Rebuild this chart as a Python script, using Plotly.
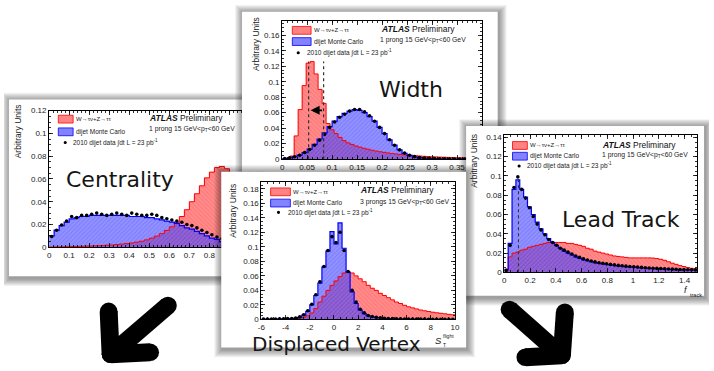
import numpy as np
import plotly.graph_objects as go

W, H = 714, 371

# ---------------- data ----------------
# Centrality: 40 bins on [0, 1]
cent_edges = np.linspace(0.0, 1.0, 41)
cent_tau = [0.0002, 0.0003, 0.0004, 0.0005, 0.0006, 0.0007, 0.0008, 0.001, 0.0011, 0.0013,
            0.0015, 0.0018, 0.002, 0.0024, 0.0028, 0.0033, 0.0038, 0.0045, 0.0053, 0.0065,
            0.008, 0.0098, 0.012, 0.0148, 0.018, 0.022, 0.027, 0.033, 0.04, 0.047,
            0.054, 0.061, 0.066, 0.07, 0.071, 0.069, 0.064, 0.055, 0.042, 0.025]
cent_mc = [0.010, 0.015, 0.019, 0.022, 0.025, 0.026, 0.027, 0.027, 0.028, 0.028,
           0.028, 0.028, 0.028, 0.028, 0.028, 0.028, 0.027, 0.027, 0.027, 0.026,
           0.026, 0.025, 0.024, 0.023, 0.022, 0.021, 0.019, 0.017, 0.016, 0.014,
           0.012, 0.010, 0.008, 0.007, 0.005, 0.004, 0.003, 0.002, 0.0012, 0.0005]
cent_data = [0.0095, 0.015, 0.0195, 0.023, 0.027, 0.026, 0.028, 0.028, 0.029, 0.030,
             0.029, 0.028, 0.029, 0.030, 0.029, 0.028, 0.030, 0.029, 0.028, 0.028,
             0.029, 0.028, 0.026, 0.025, 0.024, 0.023, 0.022, 0.020, 0.019, 0.017,
             0.015, 0.013, 0.011, 0.009, 0.0075, 0.0055, 0.004, 0.003, 0.002, 0.001]
cent_xtickvals = [0, 0.1, 0.2, 0.3, 0.4, 0.5, 0.6, 0.7, 0.8, 0.9]
cent_xticktext = ["0", "0.1", "0.2", "0.3", "0.4", "0.5", "0.6", "0.7", "0.8", "0.9"]
cent_ytickvals = [0, 0.02, 0.04, 0.06, 0.08, 0.10, 0.12]
cent_yticktext = ["0", "0.02", "0.04", "0.06", "0.08", "0.1", "0.12"]

# Width: signal 50 bins on [0, 0.4], background / data 40 bins on [0, 0.4]
width_tau_edges = np.linspace(0.0, 0.4, 51)
width_edges = np.linspace(0.0, 0.4, 41)
width_tau = [0.0, 0.001, 0.004, 0.03, 0.064, 0.095, 0.124, 0.126, 0.11, 0.09,
             0.072, 0.046, 0.038, 0.033, 0.028, 0.024, 0.021, 0.019, 0.017, 0.0155,
             0.014, 0.0128, 0.0115, 0.0105, 0.0096, 0.0088, 0.008, 0.0073, 0.0067, 0.0061,
             0.0056, 0.0052, 0.0048, 0.0044, 0.004, 0.0037, 0.0034, 0.0031, 0.0029, 0.0027,
             0.0025, 0.0023, 0.0021, 0.0019, 0.0017, 0.0016, 0.0015, 0.0014, 0.0013, 0.0012]
width_mc = [0.0008, 0.0018, 0.0032, 0.0052, 0.0085, 0.013, 0.019, 0.026, 0.034, 0.042,
            0.049, 0.055, 0.059, 0.062, 0.064, 0.063, 0.060, 0.055, 0.049, 0.041,
            0.033, 0.025, 0.018, 0.012, 0.0075, 0.0048, 0.003, 0.002, 0.0013, 0.0009,
            0.0006, 0.0004, 0.0003, 0.0002, 0.0002, 0.0001, 0.0001, 0.0001, 0.0, 0.0]
width_data = [0.0007, 0.0017, 0.003, 0.005, 0.0085, 0.0125, 0.018, 0.0245, 0.032, 0.041,
              0.048, 0.054, 0.058, 0.062, 0.064, 0.064, 0.061, 0.056, 0.049, 0.041,
              0.033, 0.025, 0.018, 0.012, 0.0078, 0.005, 0.0032, 0.0021, 0.0014, 0.001,
              0.0007, 0.0005, 0.0003, 0.0002, 0.0002, 0.0001, 0.0001, 0.0001, 0.0, 0.0]
width_cut_lo, width_cut_hi, width_cut_top, width_arrow_y = 0.053, 0.083, 0.126, 0.063
width_xtickvals = [0, 0.05, 0.1, 0.15, 0.2, 0.25, 0.3, 0.35]
width_xticktext = ["0", "0.05", "0.1", "0.15", "0.2", "0.25", "0.3", "0.35"]
width_ytickvals = [0, 0.02, 0.04, 0.06, 0.08, 0.10, 0.12, 0.14, 0.16]
width_yticktext = ["0", "0.02", "0.04", "0.06", "0.08", "0.1", "0.12", "0.14", "0.16"]

# Displaced vertex: 48 bins on [-6, 10]
dv_edges = np.linspace(-6.0, 10.0, 49)
dv_tau = [0.0001, 0.0001, 0.0001, 0.0002, 0.0002, 0.0003, 0.0005, 0.0008, 0.0012, 0.002,
          0.003, 0.005, 0.009, 0.015, 0.024, 0.032, 0.04, 0.047, 0.053, 0.059,
          0.064, 0.066, 0.064, 0.06, 0.056, 0.052, 0.047, 0.043, 0.04, 0.036,
          0.033, 0.03, 0.027, 0.024, 0.022, 0.0195, 0.0175, 0.016, 0.0145, 0.013,
          0.012, 0.011, 0.010, 0.0092, 0.0085, 0.0078, 0.0071, 0.0065]
dv_mc = [0.0005, 0.0005, 0.0005, 0.0006, 0.0007, 0.0008, 0.001, 0.0012, 0.0018, 0.003,
         0.006, 0.011, 0.02, 0.033, 0.05, 0.072, 0.094, 0.121, 0.104, 0.133,
         0.098, 0.065, 0.038, 0.022, 0.013, 0.008, 0.005, 0.0035, 0.0025, 0.002,
         0.0015, 0.0012, 0.001, 0.0008, 0.0007, 0.0006, 0.0005, 0.0005, 0.0004, 0.0004,
         0.0003, 0.0003, 0.0003, 0.0002, 0.0002, 0.0002, 0.0002, 0.0002]
dv_data = [0.0006, 0.0005, 0.0006, 0.0007, 0.0008, 0.0009, 0.0011, 0.0014, 0.002, 0.0035,
           0.0065, 0.012, 0.021, 0.034, 0.052, 0.073, 0.095, 0.114, 0.106, 0.12,
           0.095, 0.066, 0.04, 0.024, 0.014, 0.009, 0.0055, 0.004, 0.003, 0.0022,
           0.0017, 0.0013, 0.0011, 0.0009, 0.0008, 0.0007, 0.0006, 0.0005, 0.0005, 0.0004,
           0.0004, 0.0003, 0.0003, 0.0003, 0.0002, 0.0002, 0.0002, 0.0002]
dv_xtickvals = [-6, -4, -2, 0, 2, 4, 6, 8, 10]
dv_xticktext = ["-6", "-4", "-2", "0", "2", "4", "6", "8", "10"]
dv_ytickvals = [0, 0.02, 0.04, 0.06, 0.08, 0.10, 0.12, 0.14, 0.16, 0.18]
dv_yticktext = ["0", "0.02", "0.04", "0.06", "0.08", "0.1", "0.12", "0.14", "0.16", "0.18"]

# Lead track: 50 bins on [0, 1.5]
lt_edges = np.linspace(0.0, 1.5, 51)
lt_tau = [0.002, 0.016, 0.02, 0.021, 0.023, 0.024, 0.026, 0.027, 0.028, 0.029,
          0.030, 0.031, 0.031, 0.031, 0.031, 0.031, 0.030, 0.030, 0.029, 0.028,
          0.027, 0.025, 0.024, 0.022, 0.021, 0.020, 0.019, 0.018, 0.017, 0.0165,
          0.016, 0.0155, 0.015, 0.015, 0.015, 0.015, 0.015, 0.015, 0.0148, 0.0143,
          0.0135, 0.0125, 0.011, 0.0095, 0.0083, 0.007, 0.006, 0.005, 0.0042, 0.0035]
lt_mc = [0.003, 0.03, 0.086, 0.096, 0.086, 0.078, 0.068, 0.06, 0.052, 0.045,
         0.04, 0.035, 0.031, 0.028, 0.025, 0.022, 0.02, 0.018, 0.016, 0.0145,
         0.013, 0.012, 0.011, 0.010, 0.0093, 0.0087, 0.0081, 0.0076, 0.0071, 0.0067,
         0.0063, 0.0059, 0.0056, 0.0053, 0.005, 0.0047, 0.0045, 0.0042, 0.004, 0.0038,
         0.0036, 0.0034, 0.0032, 0.003, 0.0029, 0.0027, 0.0026, 0.0025, 0.0024, 0.0023]
lt_data = [0.002, 0.028, 0.088, 0.099, 0.086, 0.077, 0.067, 0.058, 0.05, 0.044,
           0.039, 0.034, 0.031, 0.028, 0.025, 0.023, 0.021, 0.019, 0.017, 0.0155,
           0.014, 0.0128, 0.0118, 0.0108, 0.01, 0.0094, 0.0088, 0.0082, 0.0077, 0.0072,
           0.0068, 0.0064, 0.006, 0.0057, 0.0054, 0.0051, 0.0048, 0.0045, 0.0043, 0.0041,
           0.0039, 0.0037, 0.0035, 0.0033, 0.0031, 0.003, 0.0028, 0.0027, 0.0026, 0.0025]
lt_cut, lt_cut_top = 0.11, 0.099
lt_xtickvals = [0, 0.2, 0.4, 0.6, 0.8, 1.0, 1.2, 1.4]
lt_xticktext = ["0", "0.2", "0.4", "0.6", "0.8", "1", "1.2", "1.4"]
lt_ytickvals = [0, 0.02, 0.04, 0.06, 0.08, 0.10, 0.12, 0.14]
lt_yticktext = ["0", "0.02", "0.04", "0.06", "0.08", "0.1", "0.12", "0.14"]

legend_tau = "W→τν+Z→ττ"
legend_mc = "dijet Monte Carlo"
legend_data = "2010 dijet data ∫dt L = 23 pb<sup>-1</sup>"
atlas_label = "<b><i>ATLAS</i></b> Preliminary"
sel_1prong = "1 prong 15 GeV&lt;p<sub>T</sub>&lt;60 GeV"
sel_3prong = "3 prongs 15 GeV&lt;p<sub>T</sub>&lt;60 GeV"

# ---------------- figure scaffolding ----------------
fig = go.Figure()
layout = {}
shapes = []
annotations = []
SANS = "Liberation Sans"
BIG = "DejaVu Sans"


def aid(letter, n):
    return letter if n == 1 else f"{letter}{n}"


def akey(letter, n):
    return f"{letter}axis" if n == 1 else f"{letter}axis{n}"


def px(x):
    return x / W


def py(y):
    return 1 - y / H


def ann(x, y, text, size, family=SANS, xanchor="left", yanchor="middle",
        color="#222", angle=0):
    annotations.append(dict(x=px(x), y=py(y), xref="paper", yref="paper", text=text,
                            showarrow=False, xanchor=xanchor, yanchor=yanchor,
                            textangle=angle, borderpad=0,
                            font=dict(family=family, size=size, color=color)))


def add_frame(n, box, pad=11):
    bx0, by0, bx1, by1 = box
    fx0, fy0 = max(bx0 - pad, 0), max(by0 - pad, 0)
    fx1, fy1 = min(bx1 + pad, W), min(by1 + pad, H)
    layout[akey("x", n)] = dict(domain=[px(fx0), px(fx1)], range=[fx0, fx1],
                                visible=False, anchor=aid("y", n), fixedrange=True)
    layout[akey("y", n)] = dict(domain=[py(fy1), py(fy0)], range=[fy1, fy0],
                                visible=False, anchor=aid("x", n), fixedrange=True)
    fig.add_trace(go.Scatter(x=[], y=[], xaxis=aid("x", n), yaxis=aid("y", n),
                             showlegend=False, hoverinfo="skip"))
    xr, yr = aid("x", n), aid("y", n)
    for k in range(1, 9):
        shapes.append(dict(type="rect", xref=xr, yref=yr, layer="below",
                           x0=bx0 - k + 1, y0=by0 - k + 1, x1=bx1 + k + 1, y1=by1 + k + 2,
                           fillcolor="rgba(0,0,0,0.055)", line=dict(width=0)))
    shapes.append(dict(type="rect", xref=xr, yref=yr, layer="below",
                       x0=bx0, y0=by0, x1=bx1, y1=by1,
                       fillcolor="white", line=dict(width=0)))
    return xr, yr


def add_legend(xr, yr, red_box, blue_box, dot, texts_x, ys, atlas_xy, sel_xy, sel_text):
    shapes.append(dict(type="rect", xref=xr, yref=yr, layer="below",
                       x0=red_box[0], y0=red_box[1], x1=red_box[2], y1=red_box[3],
                       fillcolor="rgba(255,100,100,0.8)", line=dict(color="red", width=0.8)))
    shapes.append(dict(type="rect", xref=xr, yref=yr, layer="below",
                       x0=blue_box[0], y0=blue_box[1], x1=blue_box[2], y1=blue_box[3],
                       fillcolor="rgba(100,100,255,0.8)", line=dict(color="blue", width=0.8)))
    shapes.append(dict(type="circle", xref=xr, yref=yr, layer="below",
                       x0=dot[0] - 1.6, y0=dot[1] - 1.6, x1=dot[0] + 1.6, y1=dot[1] + 1.6,
                       fillcolor="black", line=dict(width=0)))
    ann(texts_x[0], ys[0], legend_tau, 6)
    ann(texts_x[1], ys[1], legend_mc, 6.5)
    ann(texts_x[2], ys[2], legend_data, 6.5)
    ann(atlas_xy[0], atlas_xy[1], atlas_label, 8.5, color="#111")
    ann(sel_xy[0], sel_xy[1], sel_text, 6.8)


def add_plot(n, xpx, ypx, xrange, yrange, tau_edges, tau, mc_edges, mc, data,
             xt, xtt, yt, ytt, xminor, yminor):
    xr, yr = aid("x", n), aid("y", n)
    tick_font = dict(family=SANS, size=8, color="#222")
    common = dict(showline=True, linecolor="black", linewidth=1, mirror="allticks",
                  ticks="inside", ticklen=4, tickwidth=0.8, tickcolor="black",
                  showgrid=False, zeroline=False, fixedrange=True, tickfont=tick_font,
                  tickmode="array")
    layout[akey("x", n)] = dict(domain=[px(xpx[0]), px(xpx[1])], range=xrange,
                                anchor=yr, tickvals=xt, ticktext=xtt,
                                minor=dict(ticks="inside", ticklen=2, tickcolor="black",
                                           dtick=xminor, tick0=xrange[0]), **common)
    layout[akey("y", n)] = dict(domain=[py(ypx[1]), py(ypx[0])], range=yrange,
                                anchor=xr, tickvals=yt, ticktext=ytt,
                                minor=dict(ticks="inside", ticklen=2, tickcolor="black",
                                           dtick=yminor, tick0=0), **common)
    tau_edges = np.asarray(tau_edges)
    mc_edges = np.asarray(mc_edges)
    tau_c = 0.5 * (tau_edges[1:] + tau_edges[:-1])
    mc_c = 0.5 * (mc_edges[1:] + mc_edges[:-1])
    fig.add_trace(go.Bar(x=tau_c, y=tau, width=np.diff(tau_edges), xaxis=xr, yaxis=yr,
                         opacity=0.65, hoverinfo="skip", showlegend=False,
                         marker=dict(color="#ff5050", line=dict(width=0),
                                     pattern=dict(shape="\\", fgcolor="#ff0000", size=3,
                                                  solidity=0.3, fillmode="overlay"))))
    fig.add_trace(go.Bar(x=mc_c, y=mc, width=np.diff(mc_edges), xaxis=xr, yaxis=yr,
                         opacity=0.62, hoverinfo="skip", showlegend=False,
                         marker=dict(color="#5050ff", line=dict(width=0),
                                     pattern=dict(shape="/", fgcolor="#0000ff", size=3,
                                                  solidity=0.3, fillmode="overlay"))))
    fig.add_trace(go.Scatter(x=tau_edges, y=list(tau) + [tau[-1]], mode="lines",
                             line=dict(color="#ff0000", width=1, shape="hv"),
                             xaxis=xr, yaxis=yr, hoverinfo="skip", showlegend=False))
    fig.add_trace(go.Scatter(x=mc_edges, y=list(mc) + [mc[-1]], mode="lines",
                             line=dict(color="#0000ff", width=1.2, shape="hv"),
                             xaxis=xr, yaxis=yr, hoverinfo="skip", showlegend=False))
    fig.add_trace(go.Scatter(x=mc_c, y=data, mode="markers",
                             marker=dict(color="black", size=3.6),
                             xaxis=xr, yaxis=yr, hoverinfo="skip", showlegend=False))
    return xr, yr


# ---------------- panel 1: Centrality ----------------
fxr, fyr = add_frame(1, (5, 98, 256, 279))
add_legend(fxr, fyr, (55, 114, 70, 122), (55, 127, 70, 135), (62, 142),
           (72, 72, 69), (118, 131, 142), (145.5, 117), (145.5, 128.5), sel_1prong)
add_plot(2, (45.7, 248.6), (109.3, 249.3), [0, 1], [0, 0.12],
         cent_edges, cent_tau, cent_edges, cent_mc, cent_data,
         cent_xtickvals, cent_xticktext, cent_ytickvals, cent_yticktext, 0.02, 0.005)
ann(14, 102, "Arbitrary Units", 8.5, xanchor="center", yanchor="top", angle=-90)
ann(62, 180, "Centrality", 22, family=BIG, color="#151515")

# ---------------- panel 2: Width ----------------
fxr, fyr = add_frame(3, (241, 8, 500, 172))
add_legend(fxr, fyr, (292, 23, 311, 31), (292, 34.5, 311, 42.5), (298, 50),
           (313, 313, 306), (27, 38.5, 50), (381, 26), (380, 36.7), sel_1prong)
wx, wy = add_plot(4, (281.7, 484.1), (17.7, 159), [0, 0.4], [0, 0.178],
                  width_tau_edges, width_tau, width_edges, width_mc, width_data,
                  width_xtickvals, width_xticktext, width_ytickvals, width_yticktext,
                  0.01, 0.005)
for xc in (width_cut_lo, width_cut_hi):
    shapes.append(dict(type="line", xref=wx, yref=wy, layer="above",
                       x0=xc, x1=xc, y0=0, y1=width_cut_top,
                       line=dict(color="#333", width=1.2, dash="dot")))
annotations.append(dict(x=width_cut_lo + 0.004, y=width_arrow_y, ax=width_cut_hi, ay=width_arrow_y,
                        xref=wx, yref=wy, axref=wx, ayref=wy, text="", showarrow=True,
                        arrowhead=2, arrowsize=1, arrowwidth=1.8, arrowcolor="black"))
ann(254.5, 12, "Arbitrary Units", 8.5, xanchor="center", yanchor="top", angle=-90)
ann(379, 88, "Width", 22, family=BIG, color="#151515")

# ---------------- panel 3: Lead Track ----------------
fxr, fyr = add_frame(5, (468, 125, 709, 299))
add_legend(fxr, fyr, (515, 141, 530, 149), (515, 152, 530, 160), (521.7, 166),
           (532, 532, 529), (145, 156, 166), (605, 144), (605, 154.5), sel_1prong)
lx, ly = add_plot(6, (506.7, 702.3), (134.7, 275), [0, 1.5], [0, 0.142],
                  lt_edges, lt_tau, lt_edges, lt_mc, lt_data,
                  lt_xtickvals, lt_xticktext, lt_ytickvals, lt_yticktext, 0.05, 0.005)
shapes.append(dict(type="line", xref=lx, yref=ly, layer="above",
                   x0=lt_cut, x1=lt_cut, y0=0, y1=lt_cut_top,
                   line=dict(color="#333", width=1.1, dash="dot")))
ann(476, 132, "Arbitrary Units", 8.5, xanchor="center", yanchor="top", angle=-90)
ann(691, 293, "<i>f</i>", 9, xanchor="center")
ann(694, 298.5, "track", 5.5)
ann(564, 221, "Lead Track", 22, family=BIG, color="#151515")

# ---------------- panel 4: Displaced Vertex ----------------
fxr, fyr = add_frame(7, (220, 172, 468, 352))
add_legend(fxr, fyr, (270, 188.5, 290, 196.5), (270, 200, 290, 208), (278, 213.5),
           (292, 292, 287), (193, 204, 213.5), (360, 191), (360, 202.5), sel_3prong)
add_plot(8, (260.7, 456.7), (182.6, 323.3), [-6, 10], [0, 0.189],
         dv_edges, dv_tau, dv_edges, dv_mc, dv_data,
         dv_xtickvals, dv_xticktext, dv_ytickvals, dv_yticktext, 0.5, 0.005)
ann(231, 183, "Arbitrary Units", 8.5, xanchor="center", yanchor="top", angle=-90)
ann(250, 348, "Displaced Vertex", 20, family=BIG, color="#151515")
ann(440, 345, "<i>S</i>", 9.5, xanchor="center")
ann(444, 340, "flight", 5)
ann(444, 349.5, "T", 5)

# ---------------- big black arrows ----------------
ARROW_W = 18


def thick_segment(x0, y0, x1, y1):
    shapes.append(dict(type="path", xref="paper", yref="paper", layer="above",
                       path=f"M {px(x0)},{py(y0)} L {px(x1)},{py(y1)}",
                       line=dict(color="black", width=ARROW_W)))
    for (cx, cy) in ((x0, y0), (x1, y1)):
        r = ARROW_W / 2
        shapes.append(dict(type="circle", xref="paper", yref="paper", layer="above",
                           x0=px(cx - r), x1=px(cx + r), y0=py(cy + r), y1=py(cy - r),
                           fillcolor="black", line=dict(width=0)))


# left arrow (pointing down-left)
thick_segment(166, 309, 112, 356)
thick_segment(106, 315, 108, 359)
thick_segment(108, 359, 148, 357)
# right arrow (pointing down-right)
thick_segment(512, 313, 560, 356)
thick_segment(568, 316, 565, 360)
thick_segment(565, 360, 528, 362)

layout.update(dict(width=W, height=H, margin=dict(l=0, r=0, t=0, b=0),
                   paper_bgcolor="white", plot_bgcolor="rgba(0,0,0,0)",
                   barmode="overlay", bargap=0, showlegend=False,
                   shapes=shapes, annotations=annotations))
fig.update_layout(**layout)
fig.write_html("out.html",
               config={"displayModeBar": False, "staticPlot": True},
               post_script="document.body.style.margin='0';"
                           "document.body.style.overflow='hidden';")
